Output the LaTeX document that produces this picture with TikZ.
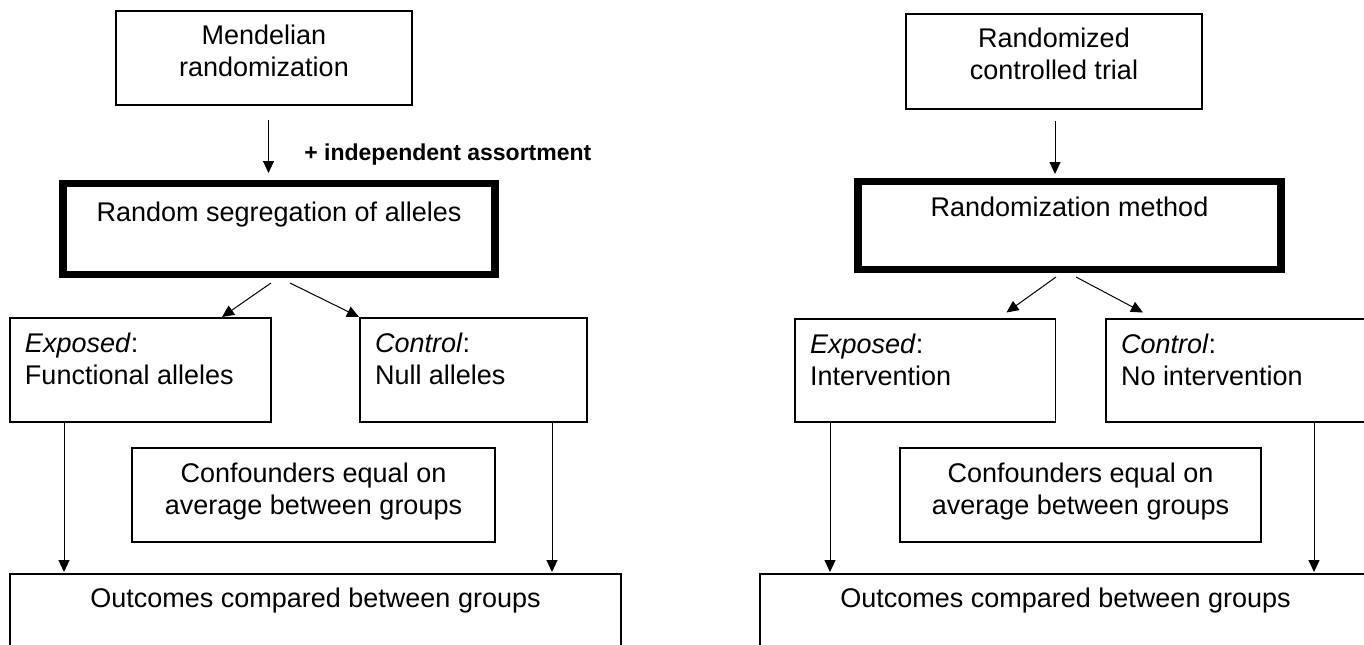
\documentclass[tikz,border=0pt]{standalone}
\usepackage{fontspec}
\setmainfont{Liberation Sans}
\usetikzlibrary{arrows.meta,calc}

% text set at the top of a box of fixed size
\newcommand{\ctext}[4]{\parbox[c][#2][t]{#1}{\centering\rule{0pt}{#3}#4}}
\newcommand{\ltext}[4]{\parbox[c][#2][t]{#1}{\raggedright\leftskip=7.5pt\rule{0pt}{#3}#4}}

\begin{document}
\begin{tikzpicture}[x=0.5pt,y=-0.5pt,
    font=\fontsize{13.5pt}{16pt}\selectfont,
    box/.style={draw, line width=0.7pt, inner sep=0pt, outer sep=0pt, anchor=north west},
    heavy/.style={box, line width=3.75pt},
    arr/.style={-{Triangle[length=6pt,width=5.5pt]}, line width=0.5pt},
    note/.style={font=\fontsize{11.5pt}{14pt}\selectfont\bfseries, inner sep=0pt, anchor=base west}]

    \useasboundingbox (0,0) rectangle (1364,644);
    \clip (0,0) rectangle (1364,644);

    % Mendelian randomization
    \node[box] (mr) at (116,11) {\ctext{148pt}{47pt}{16.85pt}{Mendelian\\randomization}};
    \node[heavy] (rs) at (63,183.5) {\ctext{216pt}{45.5pt}{19.1pt}{Random segregation of alleles}};
    \node[note] (ia) at (304,160) {+ independent assortment};
    \node[box] (ex) at (10,318) {\ltext{130.5pt}{52pt}{17.35pt}{\textit{Exposed}:\\Functional alleles}};
    \node[box] (ct) at (360,318) {\ltext{113.5pt}{52pt}{17.35pt}{\textit{Control}:\\Null alleles}};
    \node[box] (cf) at (132,448) {\ctext{181.5pt}{47pt}{17.35pt}{Confounders equal on\\average between groups}};
    \node[box] (oc) at (10,574) {\ctext{305.5pt}{50pt}{16.85pt}{Outcomes compared between groups}};

    \draw[arr] ($(mr.south)+(4.5,15)$) -- ($(mr.south |- rs.north)+(4.5,-10.5)$);
    \draw[arr] ($(rs.south)+(-8,8.5)$) -- ($(ex.north east)+(-49,-1)$);
    \draw[arr] ($(rs.south)+(11,8.5)$) -- ($(ct.north west)+(-1,-1)$);
    \draw[arr] ($(ex.south west)+(54,0)$) -- ($(oc.north west)+(54,-2)$);
    \draw[arr] ($(ct.south east)+(-35,0)$) -- ($(oc.north west)+(542,-2)$);

    % Randomized controlled trial
    \node[box] (rct) at (906,14) {\ctext{148pt}{47.5pt}{16.85pt}{Randomized\\controlled trial}};
    \node[heavy] (rm) at (858,181.5) {\ctext{211.5pt}{44pt}{17.6pt}{Randomization method}};
    \node[box] (ex2) at (795,319) {\ltext{130.25pt}{51.5pt}{17.35pt}{\textit{Exposed}:\\Intervention}};
    \node[box] (ct2) at (1106,319) {\ltext{130.5pt}{51.5pt}{17.35pt}{\textit{Control}:\\No intervention}};
    \node[box] (cf2) at (900,448) {\ctext{180.5pt}{47pt}{17.35pt}{Confounders equal on\\average between groups}};
    \node[box] (oc2) at (760,574) {\ctext{305.5pt}{50pt}{16.85pt}{Outcomes compared between groups}};

    \draw[arr] ($(rct.south)+(1,12)$) -- ($(rct.south |- rm.north)+(1,-7.5)$);
    \draw[arr] ($(rm.south)+(-13.5,7.5)$) -- ($(ex2.north east)+(-49,-6.5)$);
    \draw[arr] ($(rm.south)+(6.5,7.5)$) -- ($(ct2.north west)+(37,-6.5)$);
    \draw[arr] ($(ex2.south west)+(35,0)$) -- ($(oc2.north west)+(70,-2)$);
    \draw[arr] ($(ct2.south west)+(208,0)$) -- ($(oc2.north west)+(554,-2)$);

\end{tikzpicture}
\end{document}
